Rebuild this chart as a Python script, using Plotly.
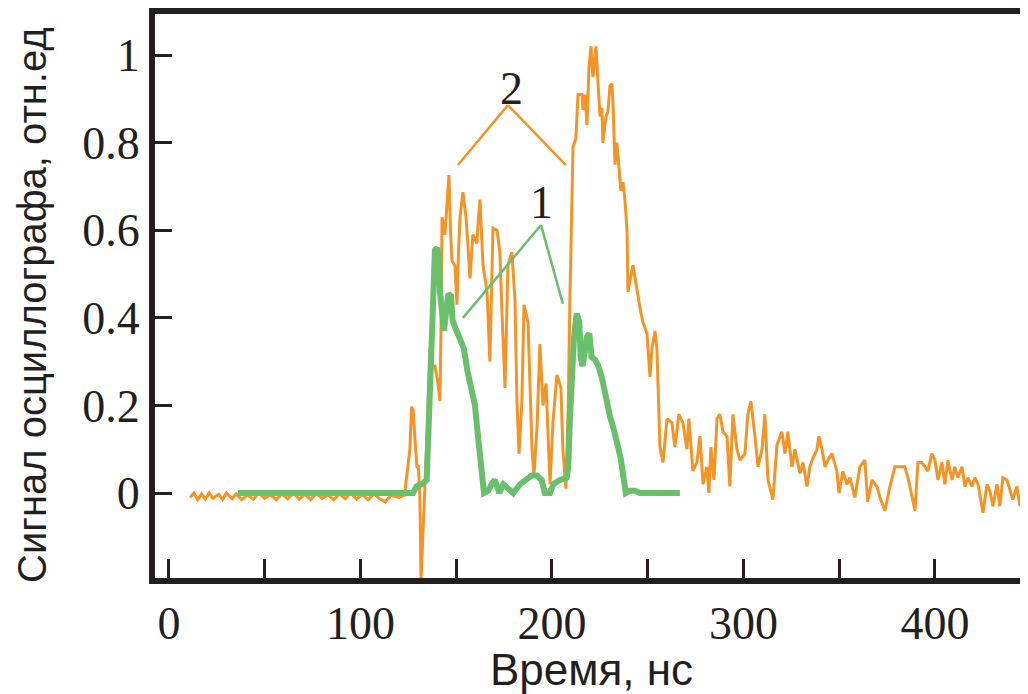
import plotly.graph_objects as go

# curve 2 (orange): time, ns / signal
t2 = [11, 13, 15, 17, 19, 21, 23, 26, 28, 30, 33, 35, 38, 41, 44, 47, 50, 53, 56, 59,
      62, 65, 68, 71, 74, 77, 80, 83, 86, 89, 92, 95, 98, 101, 104, 107, 110, 113, 116, 120,
      123, 125.8, 126.7, 127.5, 128.5, 129.5, 130.2, 131, 131.6, 132.5, 133.7, 134.5, 135.5, 136.3, 137.5, 138.9,
      140.5, 141.5, 142.2, 142.6, 144.1, 145.2, 146.2, 147.0, 147.8, 149.3, 150.4, 151.2, 152.0, 153.5,
      155.1, 156.2, 157.2, 158.7, 160.8, 161.5, 162.4, 164.0, 166.1, 167.6, 169.2, 171.3, 172.8, 174.0,
      175.5, 177.0, 179.1, 180.7, 181.7, 182.8, 184.3, 185.4, 187.5, 188.5, 189.6, 190.6, 192.2, 193.7,
      195.3, 196.9, 197.9, 199.0, 200.5, 202.6, 204.7, 205.7, 207.3, 208.5, 209.4, 210.3, 211.0, 212.5,
      213.6, 215.7, 216.2, 217.2, 218.3, 219.3, 220.4, 221.4, 223.0, 224.0, 225.1, 226.1, 226.6, 228.2,
      229.2, 230.3, 231.3, 231.9, 232.9, 233.9, 235.0, 236.0, 237.1, 238.1, 239.2, 239.7, 242.3, 244.4,
      245.9, 247.5, 249.6, 251.2, 252.2, 253.8, 254.8, 256.4, 258.0, 260.1, 262.7, 264.2, 266.3, 268.4,
      270.5, 271.5, 273.6, 275.7, 277.3, 278.9, 280.9, 282.0, 283.0, 284.6, 286.2, 287.7, 289.3, 291.4,
      292.9, 294.5, 296.6, 298.2, 300.8, 302.3, 303.9, 306.0, 307.6, 309.7, 311.2, 312.8, 315.4, 317.5,
      320.1, 321.7, 323.2, 325.3, 326.9, 329.5, 331.1, 333.2, 334.7, 336.3, 338.4, 339.4, 341.0, 342.6,
      344.1, 346.2, 348.8, 349.9, 351.9, 354.0, 355.6, 358.2, 360.8, 363.4, 364.9, 367.1, 369.7, 371.3,
      373.9, 376.5, 379.1, 381.7, 384.3, 385.9, 388.0, 389.6, 391.1, 393.2, 394.8, 396.3, 398.4, 400.0,
      401.6, 403.7, 405.2, 406.8, 408.9, 410.4, 412.0, 414.1, 415.7, 417.2, 419.3, 420.9, 422.5, 424.5,
      425.1, 427.2, 428.7, 430.3, 432.4, 433.9, 435.5, 437.6, 439.2, 440.7, 442.8, 444.4, 445.9, 448.0]
s2 = [-0.01, 0, -0.015, -0.002, -0.014, 0, -0.012, -0.003, -0.015, 0, -0.013, -0.002, -0.015, -0.004, -0.014, 0, -0.012, -0.004, -0.015, -0.002,
      -0.013, 0, -0.014, -0.003, -0.015, -0.001, -0.012, -0.004, -0.015, -0.002, -0.013, 0, -0.014, -0.003, -0.015, -0.002, -0.013, -0.02, -0.005, -0.01,
      -0.005, 0.10, 0.197, 0.19, 0.12, 0.06, 0.06, 0.0, -0.2, -0.12, 0.02, 0.1, 0.25, 0.33, 0.29, 0.29,
      0.25, 0.21, 0.42, 0.63, 0.59, 0.66, 0.726, 0.60, 0.53, 0.52, 0.43, 0.55, 0.63, 0.687,
      0.63, 0.56, 0.49, 0.59, 0.57, 0.62, 0.67, 0.52, 0.46, 0.30, 0.605, 0.60, 0.55, 0.40,
      0.24, 0.52, 0.55, 0.44, 0.21, 0.09, 0.21, 0.43, 0.39, 0.25, 0.10, 0.04, 0.15, 0.34,
      0.20, 0.25, 0.12, 0.02, 0.16, 0.27, 0.24, 0.10, 0.01, 0.2, 0.45, 0.7, 0.79, 0.81,
      0.91, 0.91, 0.875, 0.91, 0.84, 0.97, 1.02, 0.95, 1.02, 0.94, 0.86, 0.88, 0.80, 0.86,
      0.87, 0.93, 0.935, 0.89, 0.75, 0.80, 0.74, 0.69, 0.71, 0.67, 0.60, 0.46, 0.52, 0.46,
      0.425, 0.39, 0.365, 0.265, 0.33, 0.37, 0.33, 0.105, 0.07, 0.17, 0.16, 0.105, 0.18, 0.16,
      0.10, 0.17, 0.05, 0.07, 0.13, 0.02, 0.06, 0.0, 0.105, 0.03, 0.17, 0.18, 0.14, 0.13,
      0.015, 0.18, 0.10, 0.075, 0.09, 0.18, 0.21, 0.13, 0.06, 0.10, 0.18, 0.03, -0.015, 0.11,
      0.14, 0.09, 0.14, 0.06, 0.10, 0.045, 0.07, 0.015, 0.06, 0.08, 0.10, 0.13, 0.10, 0.06,
      0.075, 0.09, 0.05, 0.0, 0.05, 0.02, 0.035, -0.01, 0.06, 0.075, -0.02, 0.03, 0.015, -0.01,
      -0.04, 0.015, 0.06, 0.06, 0.06, 0.035, -0.01, -0.04, 0.07, 0.07, 0.06, 0.05, 0.09, 0.075,
      0.03, 0.07, 0.02, 0.075, 0.03, 0.06, 0.035, 0.06, 0.015, 0.035, 0.015, 0.035, 0.02, -0.03,
      -0.045, 0.02, 0.005, -0.03, 0.02, -0.03, 0.035, 0.03, 0.005, -0.015, 0.015, -0.03, 0.0, 0.015]

# curve 1 (green)
t1 = [36, 60, 90, 125.8, 127.4, 129.3, 132.0, 134.6, 135.2, 136.3, 137.2, 137.9, 138.9, 140.1, 141.1,
      141.5, 142.9, 143.6, 145.0, 145.9, 147.3, 148.1, 149.3, 152.0, 154.0, 155.8, 158.1, 159.8, 161.0,
      162.4, 163.3, 164.5, 166.7, 168.5, 170.2, 172.5, 174.6, 177.2, 179.8, 183.3, 186.8, 189.4, 192.0,
      194.6, 196.3, 199.0, 200.7, 204.2, 207.7, 208.5, 209.4, 210.3, 211.5, 212.9, 214.3, 215.0, 216.0,
      217.2, 218.1, 219.5, 220.7, 222.5, 224.2, 226.0, 227.2, 228.6, 230.3, 232.0, 234.1, 235.9, 237.2,
      238.6, 240.7, 243.3, 245.9, 266.8]
s1 = [0, 0, 0, 0, 0.0, 0.015, 0.02, 0.03, 0.10, 0.25, 0.365, 0.48, 0.555, 0.56, 0.525,
      0.46, 0.40, 0.37, 0.425, 0.455, 0.45, 0.395, 0.38, 0.355, 0.33, 0.28, 0.24, 0.20, 0.145,
      0.10, 0.05, 0.0, 0.005, 0.02, 0.03, 0.0, 0.02, 0.01, 0.0, 0.02, 0.03, 0.04, 0.04,
      0.03, 0.0, 0.0, 0.02, 0.03, 0.035, 0.06, 0.17, 0.25, 0.355, 0.41, 0.39, 0.31, 0.29,
      0.325, 0.355, 0.365, 0.31, 0.305, 0.29, 0.265, 0.235, 0.20, 0.175, 0.15, 0.115, 0.08, 0.04,
      0.0, 0.005, 0.005, 0.0, 0.0]

x_ticks = [0, 50, 100, 150, 200, 250, 300, 350, 400]
x_text = ["0", "", "100", "", "200", "", "300", "", "400"]
y_ticks = [0, 0.2, 0.4, 0.6, 0.8, 1]
y_text = ["0", "0.2", "0.4", "0.6", "0.8", "1"]

orange = "#F59325"
green = "#68BF6C"
ink = "#231f20"

fig = go.Figure()
fig.add_trace(go.Scatter(x=t2, y=s2, mode="lines", line=dict(color=orange, width=3)))
fig.add_trace(go.Scatter(x=t1, y=s1, mode="lines", line=dict(color=green, width=6)))

# leader lines for the curve numbers
fig.add_shape(type="line", x0=150.9, y0=0.749, x1=177.0, y1=0.886, line=dict(color=orange, width=2.5))
fig.add_shape(type="line", x0=177.0, y0=0.886, x1=207.3, y1=0.749, line=dict(color=orange, width=2.5))
fig.add_shape(type="line", x0=153.5, y0=0.40, x1=194.3, y1=0.612, line=dict(color=green, width=2.5))
fig.add_shape(type="line", x0=194.3, y0=0.612, x1=205.7, y1=0.432, line=dict(color=green, width=2.5))
fig.add_annotation(x=179.0, y=0.925, text="2", showarrow=False,
                   font=dict(family="Liberation Serif", size=46, color=ink))
fig.add_annotation(x=194.3, y=0.664, text="1", showarrow=False,
                   font=dict(family="Liberation Serif", size=46, color=ink))

# axis titles placed as paper annotations
fig.add_annotation(xref="paper", yref="paper", x=-0.141, y=0.484, textangle=-90,
                   text="Сигнал осциллографа, отн.ед", showarrow=False,
                   xanchor="center", yanchor="middle",
                   font=dict(family="Liberation Sans", size=40, color=ink))
fig.add_annotation(xref="paper", yref="paper", x=0.5, y=-0.162,
                   text="Время, нс", showarrow=False,
                   xanchor="center", yanchor="middle",
                   font=dict(family="Liberation Sans", size=44, color=ink))

# page body adds an 8px offset, margins compensate for it
fig.update_layout(width=1028, height=694, showlegend=False,
                  plot_bgcolor="white", paper_bgcolor="white",
                  margin=dict(l=147, r=8, t=6, b=124))
fig.update_xaxes(range=[-7.3, 448.6], showgrid=False, zeroline=False, automargin=False,
                 showline=True, linecolor=ink, linewidth=6, mirror=True,
                 ticks="inside", ticklen=19, tickwidth=3, tickcolor=ink,
                 tickvals=x_ticks, ticktext=x_text,
                 tickfont=dict(family="Liberation Serif", size=46, color=ink))
fig.update_yaxes(range=[-0.194, 1.094], showgrid=False, zeroline=False, automargin=False,
                 showline=True, linecolor=ink, linewidth=6,
                 ticks="inside", ticklen=17, tickwidth=3, tickcolor=ink,
                 tickvals=y_ticks, ticktext=y_text, ticklabelstandoff=0,
                 tickfont=dict(family="Liberation Serif", size=46, color=ink))

fig.write_html("out.html")
